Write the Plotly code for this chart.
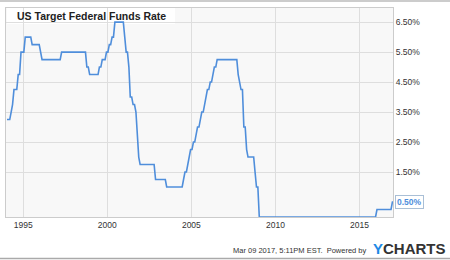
import pandas as pd
import plotly.graph_objects as go

# Target federal funds rate (lower bound after Dec 2008), change dates and levels
change_dates = [
    "1994-01-01", "1994-03-22", "1994-04-18", "1994-05-17", "1994-08-16", "1994-11-15",
    "1995-02-01", "1995-07-06", "1995-12-19", "1996-01-31", "1997-03-25",
    "1998-09-29", "1998-10-15", "1998-11-17", "1999-06-30", "1999-08-24", "1999-11-16",
    "2000-02-02", "2000-03-21", "2000-05-16",
    "2001-01-03", "2001-01-31", "2001-03-20", "2001-04-18", "2001-05-15", "2001-06-27",
    "2001-08-21", "2001-09-17", "2001-10-02", "2001-11-06", "2001-12-11",
    "2002-11-06", "2003-06-25",
    "2004-06-30", "2004-08-10", "2004-09-21", "2004-11-10", "2004-12-14",
    "2005-02-02", "2005-03-22", "2005-05-03", "2005-06-30", "2005-08-09", "2005-09-20",
    "2005-11-01", "2005-12-13", "2006-01-31", "2006-03-28", "2006-05-10", "2006-06-29",
    "2007-09-18", "2007-10-31", "2007-12-11",
    "2008-01-22", "2008-01-30", "2008-03-18", "2008-04-30", "2008-10-08", "2008-10-29",
    "2008-12-16", "2015-12-16", "2016-12-14",
]
rates = [
    3.25, 3.50, 3.75, 4.25, 4.75, 5.50,
    6.00, 5.75, 5.50, 5.25, 5.50,
    5.25, 5.00, 4.75, 5.00, 5.25, 5.50,
    5.75, 6.00, 6.50,
    6.00, 5.50, 5.00, 4.50, 4.00, 3.75,
    3.50, 3.00, 2.50, 2.00, 1.75,
    1.25, 1.00,
    1.25, 1.50, 1.75, 2.00, 2.25,
    2.50, 2.75, 3.00, 3.25, 3.50, 3.75,
    4.00, 4.25, 4.50, 4.75, 5.00, 5.25,
    4.75, 4.50, 4.25,
    3.50, 3.00, 2.25, 2.00, 1.50, 1.00,
    0.00, 0.25, 0.50,
]
year_ticks = ["1995-01-01", "2000-01-01", "2005-01-01", "2010-01-01", "2015-01-01"]
year_labels = ["1995", "2000", "2005", "2010", "2015"]
rate_ticks = [1.5, 2.5, 3.5, 4.5, 5.5, 6.5]
rate_labels = ["%.2f%%" % v for v in rate_ticks]
title_text = "US Target Federal Funds Rate"
last_label = "%.2f%%" % rates[-1]
stamp_text = "Mar 09 2017, 5:11PM EST.  Powered by"

# The chart plots the rate in effect at each mid-month (monthly sampling of the step series)
steps = pd.Series(rates, index=pd.to_datetime(change_dates))
months = pd.date_range("1994-01-01", "2017-03-01", freq="MS") + pd.Timedelta(days=14)
monthly = steps.reindex(steps.index.union(months)).ffill().loc[months]

LINE = "#4f8edb"
FONT = "Liberation Sans, Arial, sans-serif"

fig = go.Figure(go.Scatter(
    x=monthly.index, y=monthly.values, mode="lines",
    line=dict(color=LINE, width=1.6),
    hoverinfo="skip",
))

PW, PH = 387.0, 209.0  # plot area pixels

def px_x(p):
    return (p - 6) / PW

def px_y(p):
    return (217 - p) / PH

fig.update_layout(
    width=450, height=260,
    margin=dict(l=6, r=57, t=8, b=43),
    paper_bgcolor="white", plot_bgcolor="#f8f8f8",
    showlegend=False,
    font=dict(family=FONT, size=8.5, color="#333333"),
    xaxis=dict(
        type="date", range=["1993-12-24", "2016-12-28"],
        tickvals=year_ticks, ticktext=year_labels,
        showgrid=True, gridcolor="#dedede", gridwidth=1,
        showline=True, mirror=True, linecolor="#cccccc", linewidth=1,
        ticks="", zeroline=False, fixedrange=True,
        tickfont=dict(size=8.5, color="#333333"),
    ),
    yaxis=dict(
        side="right", range=[0, 6.97],
        tickvals=rate_ticks, ticktext=rate_labels,
        showgrid=True, gridcolor="#dedede", gridwidth=1,
        showline=True, mirror=True, linecolor="#cccccc", linewidth=1,
        ticks="", zeroline=False, fixedrange=True,
        tickfont=dict(size=8.5, color="#333333"),
    ),
    shapes=[
        dict(type="rect", xref="paper", yref="paper", layer="between",
             x0=px_x(7), x1=px_x(175), y0=px_y(24), y1=px_y(8),
             fillcolor="white", line=dict(width=0)),
        dict(type="line", xref="paper", yref="paper",
             x0=px_x(0), x1=px_x(450), y0=px_y(1), y1=px_y(1),
             line=dict(color="#bbbbbb", width=1.5)),
        dict(type="line", xref="paper", yref="paper",
             x0=px_x(0), x1=px_x(450), y0=px_y(258.5), y1=px_y(258.5),
             line=dict(color="#aaaaaa", width=1.5)),
    ],
    annotations=[
        dict(text="<b>%s</b>" % title_text, xref="paper", yref="paper",
             x=px_x(15), y=px_y(16), xanchor="left", yanchor="middle",
             showarrow=False, font=dict(size=10.5, color="#222222")),
        dict(text="<b>%s</b>" % last_label, xref="paper", yref="y",
             x=px_x(395), y=rates[-1], xanchor="left", yanchor="middle",
             showarrow=False, font=dict(size=8.5, color=LINE),
             bgcolor="white", bordercolor="#a9bfd6", borderwidth=1, borderpad=1),
        dict(text=stamp_text, xref="paper", yref="paper",
             x=px_x(369), y=px_y(250), xanchor="right", yanchor="middle",
             showarrow=False, font=dict(size=7.5, color="#333333")),
        dict(text="<b><span style='color:#1e88e5'>Y</span>CHARTS</b>", xref="paper", yref="paper",
             x=px_x(371), y=px_y(248), xanchor="left", yanchor="middle",
             showarrow=False, font=dict(size=15, color="#333333")),
    ],
)

fig.write_html("out.html")
